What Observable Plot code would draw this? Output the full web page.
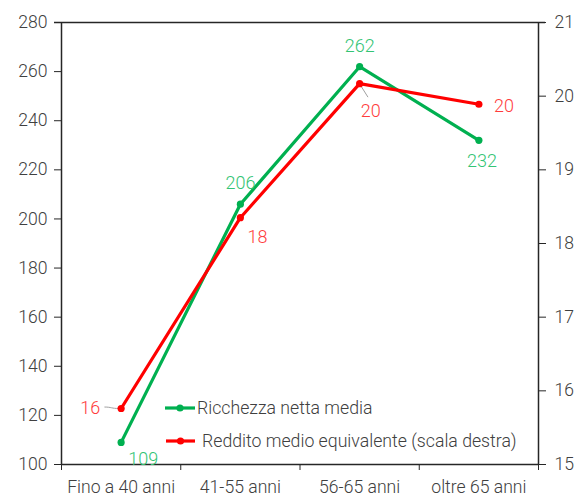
<!DOCTYPE html>
<html>
<head>
<meta charset="utf-8">
<script src="https://cdn.jsdelivr.net/npm/d3@7"></script>
<script src="https://cdn.jsdelivr.net/npm/@observablehq/plot@0.6"></script>
<style>
  html, body { margin: 0; padding: 0; background: #fff; }
  #wrap { position: relative; width: 576px; height: 496px; font-family: Roboto, "Noto Sans", sans-serif; }
  #legend { position: absolute; left: 0; top: 0; width: 576px; height: 496px; pointer-events: none; }
  svg text { font-weight: 300; }
</style>
</head>
<body>
<div id="wrap"></div>
<script>
const categories = ["Fino a 40 anni", "41-55 anni", "56-65 anni", "oltre 65 anni"];
const ricchezza = [109, 206, 262, 232];          // left scale
const reddito = [15.76, 18.35, 20.17, 19.89];    // right scale
const redditoLabels = ["16", "18", "20", "20"];
const leftTicks = [100, 120, 140, 160, 180, 200, 220, 240, 260, 280];
const rightTicks = [15, 16, 17, 18, 19, 20, 21];
const seriesNames = ["Ricchezza netta media", "Reddito medio equivalente (scala destra)"];

const GREEN = "#00b050", GREEN_LBL = "#33c474";
const RED = "#ff0000", RED_LBL = "#ff3c3c";
const AXIS = "#262626", TXT = "#404040";

// map right-scale value onto left-scale domain
const toLeft = v => 100 + (v - 15) * 30;
const fromLeft = y => (y - 100) / 30 + 15;

const green = categories.map((c, i) => ({i, c, v: ricchezza[i]}));
const red = categories.map((c, i) => ({i, c, v: toLeft(reddito[i]), lbl: redditoLabels[i]}));
const bounds = d3.range(categories.length + 1).map(k => k - 0.5);

const font = "Roboto, 'Noto Sans', sans-serif";
const AX = 17.6, LB = 18;

const chart = Plot.plot({
  width: 576,
  height: 496,
  marginTop: 22,
  marginBottom: 32,
  marginLeft: 61,
  marginRight: 38,
  style: {fontFamily: font, fontSize: AX + "px", color: TXT, background: "#fff"},
  x: {type: "linear", domain: [-0.5, categories.length - 0.5]},
  y: {domain: [100, 280]},
  marks: [
    Plot.axisY({anchor: "left", ticks: leftTicks, tickSize: 7, tickPadding: 7, stroke: AXIS, fill: TXT, fontSize: AX, label: null}),
    Plot.axisY({anchor: "right", ticks: rightTicks.map(toLeft), tickFormat: d => String(Math.round(fromLeft(d))), tickSize: 7, tickPadding: 9, stroke: AXIS, fill: TXT, fontSize: AX, label: null}),
    Plot.axisX({anchor: "bottom", ticks: bounds, tickSize: 6, tickFormat: () => "", stroke: AXIS, label: null}),
    Plot.axisX({anchor: "bottom", ticks: d3.range(categories.length), tickSize: 0, tickPadding: 16, tickFormat: i => categories[i], fill: TXT, fontSize: AX, label: null}),
    Plot.ruleX([-0.5, categories.length - 0.5], {stroke: AXIS, strokeWidth: 1.5}),
    Plot.ruleY([100], {stroke: AXIS, strokeWidth: 1.5}),
    Plot.ruleY([280], {stroke: AXIS, strokeWidth: 1.5, insetLeft: -7, insetRight: -7}),
    Plot.link([red[0]], {x1: d => d.i - 0.14, y1: d => d.v + 0.6, x2: d => d.i - 0.02, y2: d => d.v, stroke: "#a0a0a0", strokeWidth: 1, curve: "bump-x"}),
    Plot.link([red[2]], {x1: d => d.i + 0.005, y1: d => d.v - 0.5, x2: d => d.i + 0.07, y2: d => d.v - 5.5, stroke: "#a0a0a0", strokeWidth: 1}),
    Plot.line(green, {x: "i", y: "v", stroke: GREEN, strokeWidth: 3.2}),
    Plot.dot(green, {x: "i", y: "v", r: 3.6, fill: GREEN}),
    Plot.line(red, {x: "i", y: "v", stroke: RED, strokeWidth: 3.2}),
    Plot.dot(red, {x: "i", y: "v", r: 3.6, fill: RED}),
    Plot.text([green[0]], {x: "i", y: "v", text: d => String(d.v), dx: 22, dy: 17, fill: GREEN_LBL, fontSize: LB}),
    Plot.text([green[1]], {x: "i", y: "v", text: d => String(d.v), dx: 0, dy: -21, fill: GREEN_LBL, fontSize: LB}),
    Plot.text([green[2]], {x: "i", y: "v", text: d => String(d.v), dx: 0, dy: -20, fill: GREEN_LBL, fontSize: LB}),
    Plot.text([green[3]], {x: "i", y: "v", text: d => String(d.v), dx: 3, dy: 21, fill: GREEN_LBL, fontSize: LB}),
    Plot.text([red[0]], {x: "i", y: "v", text: "lbl", dx: -31, dy: 0, fill: RED_LBL, fontSize: LB}),
    Plot.text([red[1]], {x: "i", y: "v", text: "lbl", dx: 17, dy: 20, fill: RED_LBL, fontSize: LB}),
    Plot.text([red[2]], {x: "i", y: "v", text: "lbl", dx: 11, dy: 28, fill: RED_LBL, fontSize: LB}),
    Plot.text([red[3]], {x: "i", y: "v", text: "lbl", dx: 25, dy: 2, fill: RED_LBL, fontSize: LB})
  ]
});

const wrap = document.getElementById("wrap");
wrap.appendChild(chart);

const legendColors = [GREEN, RED];
const ns = "http://www.w3.org/2000/svg";
const lg = document.createElementNS(ns, "svg");
lg.setAttribute("id", "legend");
lg.setAttribute("width", 576);
lg.setAttribute("height", 496);
const rows = [{y: 408, x0: 165, x1: 195, tx: 197}, {y: 441, x0: 166, x1: 195, tx: 202}];
seriesNames.forEach((name, k) => {
  const r = rows[k];
  const ln = document.createElementNS(ns, "line");
  ln.setAttribute("x1", r.x0); ln.setAttribute("x2", r.x1);
  ln.setAttribute("y1", r.y); ln.setAttribute("y2", r.y);
  ln.setAttribute("stroke", legendColors[k]); ln.setAttribute("stroke-width", 3.2);
  lg.appendChild(ln);
  const c = document.createElementNS(ns, "circle");
  c.setAttribute("cx", (r.x0 + r.x1) / 2); c.setAttribute("cy", r.y); c.setAttribute("r", 3.6);
  c.setAttribute("fill", legendColors[k]);
  lg.appendChild(c);
  const t = document.createElementNS(ns, "text");
  t.setAttribute("x", r.tx); t.setAttribute("y", r.y);
  t.setAttribute("dy", "0.35em");
  t.setAttribute("fill", TXT);
  t.setAttribute("font-size", "17.7px");
  t.setAttribute("font-family", font);
  t.textContent = name;
  lg.appendChild(t);
});
wrap.appendChild(lg);
</script>
</body>
</html>
